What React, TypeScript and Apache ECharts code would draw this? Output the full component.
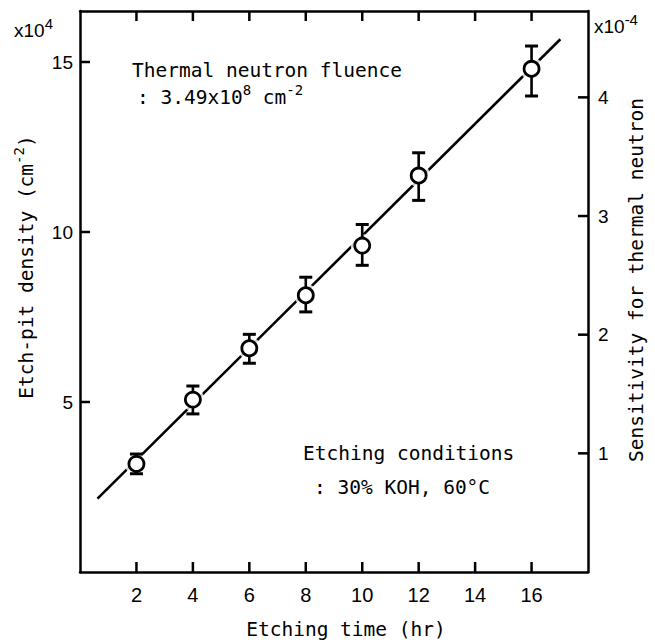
import React, { useEffect, useRef } from "react";
import * as echarts from "echarts";

// Data
const etchTimes = [2, 4, 6, 8, 10, 12, 16];
const pitDensity = [3.18, 5.07, 6.58, 8.14, 9.6, 11.66, 14.8];
const errLow = [2.89, 4.65, 6.14, 7.65, 9.02, 10.93, 14.0];
const errHigh = [3.47, 5.47, 6.99, 8.67, 10.22, 12.33, 15.47];
const fitLineX = [0.62, 17.02];
const fitLineY = [2.16, 15.67];
const xTickLabels = [2, 4, 6, 8, 10, 12, 14, 16];
const yLeftTickLabels = [5, 10, 15];
const yRightTickLabels = [1, 2, 3, 4];
const fluence = 3.49; // x10^8 cm^-2
const xMax = 18;
const yLeftMax = 16.5;

const MONO = "DejaVu Sans Mono";
const SANS = "Liberation Sans";
const TICK_LEN = 10;

export default function App() {
  const ref = useRef<HTMLDivElement>(null);
  useEffect(() => {
    if (!ref.current) return;
    const chart = echarts.init(ref.current, undefined, { renderer: "svg" });
    const axisLine = { show: true, onZero: false, lineStyle: { color: "#000", width: 2.5 } };
    const noTick = { show: false };
    const pts = etchTimes.map((t, i) => [t, pitDensity[i]]);
    const bars = etchTimes.map((t, i) => [t, errLow[i], errHigh[i]]);
    const fit = fitLineX.map((x, i) => [x, fitLineY[i]]);
    const tickStyle = { stroke: "#000", lineWidth: 2.5 };
    const option: any = {
      animation: false,
      backgroundColor: "#fff",
      grid: { left: 80, right: 67, top: 11, bottom: 72 },
      xAxis: [
        {
          type: "value", min: 0, max: xMax, interval: 2, position: "bottom",
          axisLine, axisTick: noTick, splitLine: { show: false },
          axisLabel: {
            margin: 13, color: "#000", fontFamily: SANS, fontSize: 20,
            formatter: (v: number) => (xTickLabels.includes(v) ? String(v) : ""),
          },
        },
        {
          type: "value", min: 0, max: xMax, interval: 2, position: "top",
          axisLine, axisTick: noTick, splitLine: { show: false },
          axisLabel: { show: false },
        },
      ],
      yAxis: [
        {
          type: "value", min: 0, max: yLeftMax, interval: 5, position: "left",
          axisLine, axisTick: noTick, splitLine: { show: false },
          axisLabel: {
            margin: 7, color: "#000", fontFamily: SANS, fontSize: 19,
            formatter: (v: number) => (yLeftTickLabels.includes(v) ? String(v) : ""),
          },
        },
        {
          type: "value", min: 0, max: yLeftMax / fluence, interval: 1, position: "right",
          axisLine, axisTick: noTick, splitLine: { show: false },
          axisLabel: {
            margin: 10, color: "#000", fontFamily: SANS, fontSize: 19,
            formatter: (v: number) => (yRightTickLabels.includes(v) ? String(v) : ""),
          },
        },
      ],
      series: [
        // inward ticks on bottom and top axes
        {
          type: "custom", data: xTickLabels.map((v) => [v, 0]), z: 5, clip: false, silent: true,
          encode: { x: 0, y: 1 },
          renderItem: (params: any, api: any) => {
            const v = api.value(0);
            const b = api.coord([v, 0]);
            const t = api.coord([v, yLeftMax]);
            return {
              type: "group",
              children: [
                { type: "line", shape: { x1: b[0], y1: b[1], x2: b[0], y2: b[1] - TICK_LEN }, style: tickStyle },
                { type: "line", shape: { x1: t[0], y1: t[1], x2: t[0], y2: t[1] + TICK_LEN }, style: tickStyle },
              ],
            };
          },
        },
        // inward ticks on left axis
        {
          type: "custom", data: yLeftTickLabels.map((v) => [0, v]), z: 5, clip: false, silent: true,
          encode: { x: 0, y: 1 },
          renderItem: (params: any, api: any) => {
            const p = api.coord([0, api.value(1)]);
            return { type: "line", shape: { x1: p[0], y1: p[1], x2: p[0] + TICK_LEN, y2: p[1] }, style: tickStyle };
          },
        },
        // inward ticks on right axis
        {
          type: "custom", yAxisIndex: 1, data: yRightTickLabels.map((v) => [xMax, v]), z: 5, clip: false, silent: true,
          encode: { x: 0, y: 1 },
          renderItem: (params: any, api: any) => {
            const p = api.coord([xMax, api.value(1)]);
            return { type: "line", shape: { x1: p[0], y1: p[1], x2: p[0] - TICK_LEN, y2: p[1] }, style: tickStyle };
          },
        },
        {
          type: "line", data: fit, symbol: "none", z: 1,
          lineStyle: { color: "#000", width: 2.6 },
        },
        {
          type: "scatter", data: pts, symbol: "circle", symbolSize: 23, z: 2,
          itemStyle: { color: "#fff" }, silent: true,
        },
        {
          type: "custom", data: bars, z: 3,
          encode: { x: 0, y: [1, 2] },
          renderItem: (params: any, api: any) => {
            const x = api.value(0);
            const pHi = api.coord([x, api.value(2)]);
            const pLo = api.coord([x, api.value(1)]);
            const w = 6.5;
            const st = { stroke: "#000", lineWidth: 2.6 };
            return {
              type: "group",
              children: [
                { type: "line", shape: { x1: pHi[0], y1: pHi[1], x2: pLo[0], y2: pLo[1] }, style: st },
                { type: "line", shape: { x1: pHi[0] - w, y1: pHi[1], x2: pHi[0] + w, y2: pHi[1] }, style: { stroke: "#000", lineWidth: 3 } },
                { type: "line", shape: { x1: pLo[0] - w, y1: pLo[1], x2: pLo[0] + w, y2: pLo[1] }, style: { stroke: "#000", lineWidth: 3 } },
              ],
            };
          },
        },
        {
          type: "scatter", data: pts, symbol: "circle", symbolSize: 15, z: 4,
          itemStyle: { color: "#fff", borderColor: "#000", borderWidth: 2.8, opacity: 1 },
        },
      ],
      graphic: [
        {
          type: "text", x: 14, y: 30,
          style: {
            text: "{a|x10}{s|4}", textAlign: "left", textVerticalAlign: "middle", fill: "#000",
            rich: {
              a: { fontFamily: SANS, fontSize: 19, lineHeight: 28, fill: "#000" },
              s: { fontFamily: SANS, fontSize: 15, verticalAlign: "top", fill: "#000" },
            },
          },
        },
        {
          type: "text", x: 594, y: 26,
          style: {
            text: "{a|x10}{s|-4}", textAlign: "left", textVerticalAlign: "middle", fill: "#000",
            rich: {
              a: { fontFamily: SANS, fontSize: 19, lineHeight: 28, fill: "#000" },
              s: { fontFamily: SANS, fontSize: 15, verticalAlign: "top", fill: "#000" },
            },
          },
        },
        {
          type: "text", x: 132, y: 70,
          style: {
            text: "Thermal neutron fluence", fontFamily: MONO, fontSize: 19.5,
            textAlign: "left", textVerticalAlign: "middle", fill: "#000",
          },
        },
        {
          type: "text", x: 137, y: 97,
          style: {
            text: "{a|: 3.49x10}{s|8}{a| cm}{s|-2}", textAlign: "left", textVerticalAlign: "middle", fill: "#000",
            rich: {
              a: { fontFamily: MONO, fontSize: 19.5, lineHeight: 28, fill: "#000" },
              s: { fontFamily: MONO, fontSize: 14, verticalAlign: "top", fill: "#000" },
            },
          },
        },
        {
          type: "text", x: 303, y: 453,
          style: {
            text: "Etching conditions", fontFamily: MONO, fontSize: 19.5,
            textAlign: "left", textVerticalAlign: "middle", fill: "#000",
          },
        },
        {
          type: "text", x: 314, y: 487,
          style: {
            text: ": 30% KOH, 60°C", fontFamily: MONO, fontSize: 19.5,
            textAlign: "left", textVerticalAlign: "middle", fill: "#000",
          },
        },
        {
          type: "text", x: 346, y: 629,
          style: {
            text: "Etching time (hr)", fontFamily: MONO, fontSize: 19.5,
            textAlign: "center", textVerticalAlign: "middle", fill: "#000",
          },
        },
        {
          type: "text", x: 26, y: 267, rotation: Math.PI / 2,
          style: {
            text: "{a|Etch-pit density (cm}{s|-2}{a|)}", textAlign: "center", textVerticalAlign: "middle", fill: "#000",
            rich: {
              a: { fontFamily: MONO, fontSize: 19.5, lineHeight: 28, fill: "#000" },
              s: { fontFamily: MONO, fontSize: 14, verticalAlign: "top", fill: "#000" },
            },
          },
        },
        {
          type: "text", x: 636, y: 280, rotation: Math.PI / 2,
          style: {
            text: "Sensitivity for thermal neutron", fontFamily: MONO, fontSize: 19.5,
            textAlign: "center", textVerticalAlign: "middle", fill: "#000",
          },
        },
      ],
    };
    chart.setOption(option);
    return () => chart.dispose();
  }, []);
  return (
    <div
      ref={ref}
      style={{ position: "fixed", left: 0, top: 0, width: 655, height: 644, background: "#fff" }}
    />
  );
}
